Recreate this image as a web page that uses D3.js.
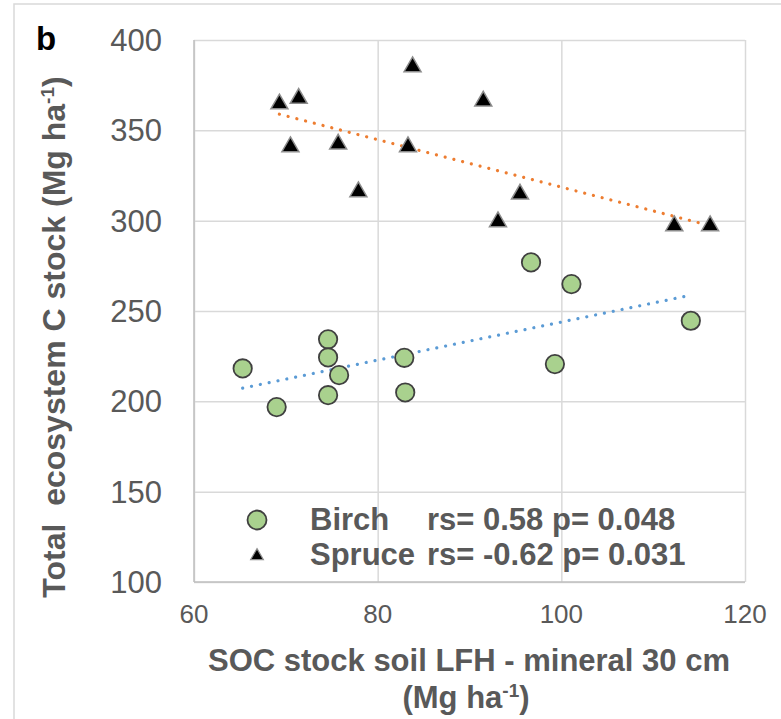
<!DOCTYPE html>
<html>
<head>
<meta charset="utf-8">
<script src="https://cdn.jsdelivr.net/npm/d3@7"></script>
<style>
  body { margin: 0; background: #fff; }
  text { font-family: Arial, "Liberation Sans", sans-serif; }
</style>
</head>
<body>
<script>
// data
var birchX = [96.7, 101.1, 114.1, 74.6, 74.6, 65.3, 75.8, 82.9, 99.3, 74.6, 83.0, 69.0];
var birchY = [276.9, 264.9, 244.6, 234.3, 224.3, 218.2, 214.5, 224.1, 220.6, 203.4, 204.9, 196.8];
var spruceX = [69.3, 71.4, 83.8, 91.5, 70.5, 75.7, 83.3, 77.9, 95.5, 93.1, 112.3, 116.2];
var spruceY = [364.6, 367.7, 385.2, 366.2, 340.9, 342.4, 340.9, 316.0, 314.7, 299.4, 297.2, 297.2];
var xTicks = [60, 80, 100, 120];
var yTicks = [100, 150, 200, 250, 300, 350, 400];
var legendNames = ["Birch", "Spruce"];
var legendStats = ["rs= 0.58 p= 0.048", "rs= -0.62 p= 0.031"];

var width = 781, height = 719;
var grey = "#595959";

var svg = d3.select("body").append("svg")
    .attr("width", width)
    .attr("height", height);

// outer frame
svg.append("rect")
    .attr("x", 14).attr("y", 4)
    .attr("width", 800).attr("height", 800)
    .attr("fill", "#fff")
    .attr("stroke", "#d9d9d9")
    .attr("stroke-width", 1.5);

var x = d3.scaleLinear().domain([60, 120]).range([194, 745]);
var y = d3.scaleLinear().domain([100, 400]).range([582, 40]);

// gridlines
svg.append("g")
    .attr("transform", "translate(0,582)")
    .call(d3.axisBottom(x).tickValues(xTicks).tickSize(-(582 - 40)).tickFormat(""))
    .call(g => g.select(".domain").remove())
    .selectAll("line").attr("stroke", "#d9d9d9").attr("stroke-width", 1.5);

svg.append("g")
    .attr("transform", "translate(194,0)")
    .call(d3.axisLeft(y).tickValues(yTicks).tickSize(-(745 - 194)).tickFormat(""))
    .call(g => g.select(".domain").remove())
    .selectAll("line").attr("stroke", "#d9d9d9").attr("stroke-width", 1.5);

// axis lines
svg.append("line").attr("x1", 194).attr("x2", 194).attr("y1", 40).attr("y2", 582)
    .attr("stroke", "#bfbfbf").attr("stroke-width", 1.5);
svg.append("line").attr("x1", 194).attr("x2", 745).attr("y1", 582).attr("y2", 582)
    .attr("stroke", "#bfbfbf").attr("stroke-width", 1.5);

// tick labels
svg.selectAll(".ylab").data(yTicks).enter().append("text")
    .attr("x", 162).attr("y", d => y(d)).attr("dy", "0.36em")
    .attr("text-anchor", "end")
    .attr("font-size", 31).attr("fill", grey)
    .text(d => d);

svg.selectAll(".xlab").data(xTicks).enter().append("text")
    .attr("x", d => x(d)).attr("y", 623)
    .attr("text-anchor", "middle")
    .attr("font-size", 26).attr("fill", grey)
    .text(d => d);

// axis titles
var xt = svg.append("text")
    .attr("text-anchor", "middle")
    .attr("font-size", 31).attr("font-weight", "bold").attr("fill", grey);
xt.append("tspan").attr("x", 469).attr("y", 671).text("SOC stock soil LFH - mineral 30 cm");
var xt2 = xt.append("tspan").attr("x", 466).attr("y", 708);
xt2.append("tspan").text("(Mg ha");
xt2.append("tspan").attr("font-size", 19).attr("dy", -11).text("-1");
xt2.append("tspan").attr("dy", 11).text(")");

var yt = svg.append("text")
    .attr("transform", "translate(65,337) rotate(-90)")
    .attr("text-anchor", "middle")
    .attr("font-size", 32).attr("font-weight", "bold").attr("fill", grey)
    .attr("xml:space", "preserve");
yt.append("tspan").text("Total  ecosystem C stock (Mg ha");
yt.append("tspan").attr("font-size", 19).attr("dy", -11).text("-1");
yt.append("tspan").attr("dy", 11).text(")");

svg.append("text")
    .attr("x", 36).attr("y", 50)
    .attr("font-size", 33).attr("font-weight", "bold").attr("fill", "#000")
    .text("b");

// trend lines (least squares over each series, drawn across its x range)
function trend(xs, ys) {
    var mx = d3.mean(xs), my = d3.mean(ys);
    var sxy = d3.sum(xs, (v, i) => (v - mx) * (ys[i] - my));
    var sxx = d3.sum(xs, v => (v - mx) * (v - mx));
    var b = sxy / sxx, a = my - b * mx;
    var ext = d3.extent(xs);
    return ext.map(v => [v, a + b * v]);
}

var line = d3.line().x(d => x(d[0])).y(d => y(d[1]));

svg.append("path")
    .datum(trend(spruceX, spruceY))
    .attr("d", line)
    .attr("fill", "none")
    .attr("stroke", "#ed7d31")
    .attr("stroke-width", 3.2)
    .attr("stroke-linecap", "round")
    .attr("stroke-dasharray", "0.01 9");

svg.append("path")
    .datum(trend(birchX, birchY))
    .attr("d", line)
    .attr("fill", "none")
    .attr("stroke", "#5b9bd5")
    .attr("stroke-width", 3.2)
    .attr("stroke-linecap", "round")
    .attr("stroke-dasharray", "0.01 9");

// points
var tri = d3.symbol().type(d3.symbolTriangle).size(125);
var triSmall = d3.symbol().type(d3.symbolTriangle).size(70);

svg.selectAll(".birch").data(birchX).enter().append("circle")
    .attr("cx", d => x(d)).attr("cy", (d, i) => y(birchY[i]))
    .attr("r", 9.2)
    .attr("fill", "#a9d18e")
    .attr("stroke", "#404040")
    .attr("stroke-width", 1.8);

svg.selectAll(".spruce").data(spruceX).enter().append("path")
    .attr("transform", (d, i) => "translate(" + x(d) + "," + y(spruceY[i]) + ")")
    .attr("d", tri)
    .attr("fill", "#000")
    .attr("stroke", "#8c8c8c")
    .attr("stroke-width", 1.5);

// legend
svg.append("circle")
    .attr("cx", 257).attr("cy", 520).attr("r", 9.5)
    .attr("fill", "#a9d18e").attr("stroke", "#404040").attr("stroke-width", 1.8);
svg.append("path")
    .attr("transform", "translate(257,556)")
    .attr("d", triSmall)
    .attr("fill", "#000").attr("stroke", "#8c8c8c").attr("stroke-width", 1.2);

legendNames.forEach(function(name, i) {
    var t = svg.append("text")
        .attr("y", 530 + i * 35)
        .attr("font-size", 31).attr("font-weight", "bold").attr("fill", grey);
    t.append("tspan").attr("x", 310).text(name);
    t.append("tspan").attr("x", 427).text(legendStats[i]);
});
</script>
</body>
</html>
